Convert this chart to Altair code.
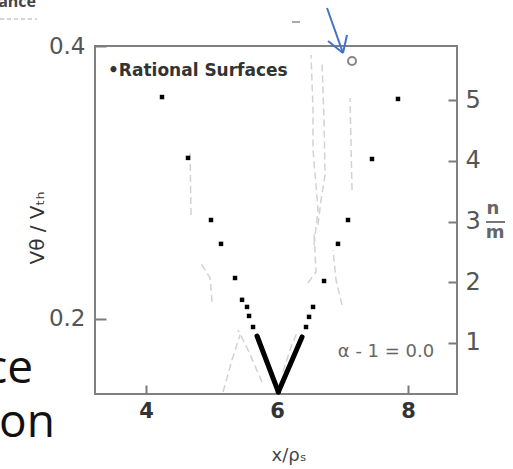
import altair as alt
import pandas as pd

# ---------------- data ----------------
x_domain = [3.221, 8.748]          # x / rho_s
y_domain = [0.145, 0.4]            # V_theta / V_th
nm_domain = [0.16, 5.89]           # n / m (right axis)

x_ticks = [4, 6, 8]
y_ticks = [0.2, 0.4]
nm_ticks = [1, 2, 3, 4, 5]

# rational surfaces (black dots)
rs_x = [4.244, 4.641, 4.992, 5.145, 5.359, 5.466, 5.542, 5.573, 5.634,
        7.847, 7.450, 7.084, 6.931, 6.718, 6.550, 6.489, 6.443]
rs_y = [0.3626, 0.318, 0.2725, 0.255, 0.230, 0.214, 0.2088, 0.2022, 0.1941,
        0.3612, 0.3172, 0.2725, 0.255, 0.2278, 0.2088, 0.2015, 0.1941]

# dense rational surfaces forming the thick "V"
dense_arm = ["left", "left", "right", "right"]
dense_x = [5.695, 6.02, 6.382, 6.02]
dense_y = [0.1875, 0.1465, 0.1868, 0.1465]

# open circle marker
marked_x = [7.145]
marked_y = [0.389]

# faint grey curves of the scanned figure
faint_id = ["g1", "g1",
            "g2", "g2", "g2",
            "g3", "g3", "g3",
            "g4", "g4", "g4",
            "g5", "g5", "g5",
            "g6", "g6", "g6",
            "g7", "g7", "g7",
            "r1", "r1", "r1", "r1", "r1",
            "r2", "r2", "r2", "r2", "r2",
            "r3", "r3"]
faint_x = [4.672, 4.687,
           4.824, 4.977, 5.008,
           5.405, 5.557, 5.771,
           5.176, 5.313, 5.435,
           6.321, 6.198, 6.092,
           6.565, 6.595, 6.473,
           6.855, 6.901, 6.992,
           6.519, 6.550, 6.550, 6.626, 6.565,
           6.687, 6.718, 6.733, 6.672, 6.626,
           7.115, 7.145]
faint_y = [0.3223, 0.2762,
           0.2418, 0.2300, 0.2125,
           0.1919, 0.1773, 0.1538,
           0.1465, 0.1700, 0.1883,
           0.1919, 0.1773, 0.1612,
           0.2637, 0.2344, 0.2264,
           0.2505, 0.2286, 0.2103,
           0.3934, 0.3531, 0.3238, 0.2799, 0.2542,
           0.3883, 0.3458, 0.3055, 0.2872, 0.2689,
           0.3619, 0.2945]

# ---------------- tables ----------------
rs_df = pd.DataFrame({"x": rs_x, "y": rs_y})
dense_df = pd.DataFrame({"arm": dense_arm, "x": dense_x, "y": dense_y})
marked_df = pd.DataFrame({"x": marked_x, "y": marked_y})
faint_df = pd.DataFrame({"id": faint_id, "x": faint_x, "y": faint_y})
nm_df = pd.DataFrame({"nm": nm_ticks})
one = pd.DataFrame({"a": [0]})

W, H = 362, 348
LBL = "DejaVu Sans"
TICK = "#7a7a7a"
xs = alt.Scale(domain=x_domain, nice=False, zero=False)
ys = alt.Scale(domain=y_domain, nice=False, zero=False)

# identical x axis for every layer (the x scale and axis are shared);
# a negative offset puts the ticks inside the frame
X_AXIS = dict(values=x_ticks, ticks=True, tickSize=9, tickWidth=2,
              tickColor=TICK, offset=-9, domain=False, grid=False,
              title=None, labelFont=LBL, labelFontSize=21,
              labelFontWeight="bold", labelColor="#333", labelPadding=6)


def X():
    return alt.X("x:Q", scale=xs, axis=alt.Axis(**X_AXIS))


faint = alt.Chart(faint_df).mark_line(
    color="#d2d2d2", strokeWidth=1.5, strokeDash=[7, 4]).encode(
    x=X(),
    y=alt.Y("y:Q", scale=ys, axis=alt.Axis(
        orient="left", values=y_ticks, format=".1f", ticks=True,
        tickSize=11, tickWidth=2, tickColor=TICK, offset=-11,
        domain=False, grid=False, title=None, labelFont=LBL,
        labelFontSize=23, labelColor="#555", labelPadding=10)),
    detail="id:N",
    order=alt.Order("y:Q"),
)

dots = alt.Chart(rs_df).mark_square(color="black", size=20, opacity=1).encode(
    x=X(),
    y=alt.Y("y:Q", scale=ys, axis=None),
)

vlines = alt.Chart(dense_df).mark_line(color="black", strokeWidth=5,
                                       strokeCap="round").encode(
    x=X(),
    y=alt.Y("y:Q", scale=ys, axis=None),
    detail="arm:N",
)

marked = alt.Chart(marked_df).mark_point(shape="circle", size=65, filled=False,
                                         color="#555", strokeWidth=2).encode(
    x=X(),
    y=alt.Y("y:Q", scale=ys, axis=None),
)

right = alt.Chart(nm_df).mark_point(opacity=0).encode(
    y=alt.Y("nm:Q", scale=alt.Scale(domain=nm_domain, nice=False, zero=False),
            axis=alt.Axis(orient="right", values=nm_ticks, ticks=True,
                          tickSize=9, tickWidth=2, tickColor=TICK, offset=-9,
                          domain=False, grid=False, title=None, labelFont=LBL,
                          labelFontSize=24, labelColor="#555", labelPadding=8)),
    x=alt.value(W),
)


def txt(text, x, y, size, color="#444", align="center", baseline="middle",
        font=LBL, weight="normal", angle=0):
    return alt.Chart(one).mark_text(
        text=text, fontSize=size, color=color, align=align, baseline=baseline,
        font=font, fontWeight=weight, angle=angle,
    ).encode(x=alt.value(x), y=alt.value(y))


texts = [
    txt("•Rational Surfaces", 13, 25, 17, color="#333", align="left", weight="bold"),
    txt("α - 1 = 0.0", 291, 306, 18, color="#666"),
    txt("Vθ / Vₜₕ", -57, 182, 20, color="#333", angle=270),
    txt("x/ρₛ", 194, 410, 18, color="#444"),
    txt("n", 398, 163, 18, color="#666", weight="bold"),
    txt("m", 400, 187, 18, color="#666", weight="bold"),
    txt("ce", -62, 337, 46, color="#111", align="right", baseline="alphabetic",
        font="Open Sans"),
    txt("ion", -40, 391, 46, color="#111", align="right", baseline="alphabetic",
        font="Open Sans"),
    txt("ance", -59, -39, 16, color="#444", align="right", baseline="alphabetic",
        font="Open Sans", weight="bold"),
]


def seg(x1, y1, x2, y2, color, width, dash=None):
    kw = dict(color=color, strokeWidth=width)
    if dash:
        kw["strokeDash"] = dash
    return alt.Chart(one).mark_rule(**kw).encode(
        x=alt.value(x1), y=alt.value(y1), x2=alt.value(x2), y2=alt.value(y2))


annots = [
    seg(391, 176, 410, 176, "#777", 2),              # fraction bar of n/m
    seg(232, -38, 248, 7, "#4472c4", 2),              # blue arrow shaft
    seg(233, -5, 248, 7, "#4472c4", 2),               # arrow head
    seg(252, -11, 248, 7, "#4472c4", 2),
    seg(197, -24, 205, -24, "#aaa", 2),               # scan speck
    seg(-95, -27, -58, -27, "#c8c8c8", 1.5, [4, 3]),  # dashed underline
]

chart = alt.layer(
    faint, vlines, dots, marked, right, *texts, *annots
).resolve_scale(y="independent").properties(
    width=W, height=H,
    autosize=alt.AutoSizeParams(type="none"),
    padding={"left": 95, "top": 46, "right": 56, "bottom": 75},
    background="white",
).configure_view(stroke="#808080", strokeWidth=2)

chart.save("out.html", embed_options={"renderer": "svg", "actions": False})
